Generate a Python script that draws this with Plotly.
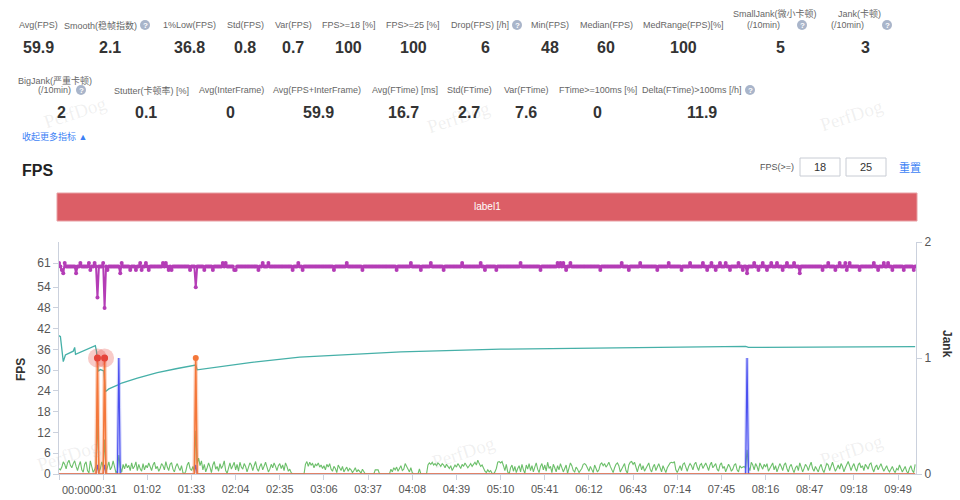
import plotly.graph_objects as go

# ---------------- data ----------------
tick_secs = [0, 31, 62, 93, 124, 155, 186, 217, 248, 279, 310, 341, 372, 403, 434, 465, 496, 527, 558, 589]
tick_labels = ["00:00", "00:31", "01:02", "01:33", "02:04", "02:35", "03:06", "03:37", "04:08", "04:39",
               "05:10", "05:41", "06:12", "06:43", "07:14", "07:45", "08:16", "08:47", "09:18", "09:49"]
fps_ticks = [0, 6, 12, 18, 24, 30, 36, 42, 48, 54, 61]
jank_ticks = [0, 1, 2]
duration_s = 602

# FPS: value 60 except at the seconds listed below
fps_typical = 60
fps_61_secs = [0, 4, 15, 21, 25, 31, 44, 57, 61, 73, 75, 115, 117, 143, 147, 168, 202, 247, 261, 283, 296,
               324, 350, 352, 354, 359, 395, 408, 428, 443, 452, 458, 464, 468, 477, 488, 494, 500, 504,
               511, 516, 540, 548, 552, 555, 572, 579, 582]
fps_59_secs = [2, 22, 34, 50, 54, 58, 63, 77, 79, 92, 102, 108, 123, 124, 140, 164, 171, 193, 213, 237,
               254, 270, 299, 307, 338, 356, 380, 400, 420, 437, 455, 461, 471, 480, 491, 497, 508, 536,
               545, 553, 562, 575, 585, 593, 600]
fps_other = {3: 58, 12: 58, 27: 51, 32: 48, 43: 58, 96: 54, 483: 58, 520: 58}

# 1%Low (teal line) key points
lowfps_secs = [0, 1, 3, 4.5, 10, 11, 11.6, 25.5, 26.3, 27.5, 29, 31.5, 32.5, 35, 41, 44, 55, 69, 83, 96, 97,
               106, 134, 169, 240, 310, 380, 450, 482, 484, 540, 601]
lowfps_vals = [40, 39.7, 32.5, 34.4, 35.5, 36.6, 34.6, 37.1, 35.5, 29.7, 30.2, 29.8, 23.8, 24.6, 25.7, 26.3,
               27.7, 29.3, 30.5, 31.5, 30.1, 30.6, 32.2, 33.8, 35.3, 36.1, 36.4, 36.6, 36.9, 36.6, 36.7, 36.8]

# green line, one value per second
green_vals = [
    1.5, 1.2, 2.0, 3.5, 2.8, 1.5, 3.2, 4.0, 2.5, 1.8, 3.0, 3.8, 2.2, 1.0, 2.5, 3.6, 1.2, 0.5, 2.8, 3.5,
    1.0, 0.3, 3.8, 2.0, 0.5, 1.2, 2.5, 0.0, 0.5, 1.5, 3.5,
    2.0, 0.0, 0.5, 2.5, 3.5, 1.2, 2.0, 3.8, 1.5, 0.3, 1.0, 0.0, 2.0, 0.5, 2.8, 1.5, 3.0, 1.8, 2.5, 1.0,
    3.2, 1.5, 2.2, 3.5, 1.0, 2.8, 1.5, 0.8, 3.0, 1.2, 2.5,
    1.8, 3.2, 2.0, 1.0, 2.6, 3.4, 1.5, 2.2, 0.8, 1.6, 3.0, 2.4, 1.2, 3.6, 2.0, 1.0, 2.8, 3.3, 1.4, 0.6,
    2.2, 3.0, 1.8, 1.0, 2.4, 0.4, 0.0, 0.8, 2.6, 3.4, 1.6,
    1.0, 2.2, 0.6, 0.0, 3.0, 4.6, 2.4, 3.8, 1.2, 2.8, 0.6, 1.8, 3.2, 2.0, 0.4, 2.6, 3.6, 1.4, 2.2, 0.8,
    3.0, 1.6, 2.4, 3.8, 1.0, 0.2, 2.0, 3.2, 1.4, 2.6, 3.4,
    1.2, 2.8, 0.8, 3.4, 2.0, 1.4, 3.0, 2.2, 0.6, 1.8, 3.2, 2.6, 1.0, 2.4, 3.6, 1.6, 0.8, 2.2, 3.0, 1.2,
    2.6, 3.4, 2.0, 0.6, 1.4, 2.8, 1.8, 3.2, 2.2, 1.0, 2.4,
    3.0, 1.6, 2.6, 1.0, 3.2, 2.2, 0.8, 1.4, 0.4, 0.0, 0.0, 0.0, 0.0, 0.0, 0.0, 0.0, 0.0, 0.0, 2.8, 3.6,
    2.2, 3.4, 2.6, 3.0, 1.8, 2.8, 2.4, 3.2, 2.0, 2.6, 1.6,
    2.4, 1.2, 2.8, 2.0, 3.0, 1.4, 0.8, 2.2, 1.6, 0.4, 2.6, 1.8, 1.0, 2.2, 0.6, 1.4, 2.0, 0.8, 1.6, 1.2,
    0.4, 1.0, 1.8, 0.6, 1.2, 0.8, 0.2, 1.4, 0.6, 0.0, 0.0,
    0.0, 0.0, 0.0, 0.0, 0.0, 1.2, 1.3, 1.2, 0.0, 0.0, 0.0, 0.0, 0.0, 0.0, 0.0, 0.0, 1.4, 0.6, 1.8, 1.2,
    2.0, 0.8, 1.6, 2.4, 1.0, 1.4, 3.0, 2.2, 1.2, 0.6, 1.8,
    0.4, 0.0, 0.0, 0.0, 0.0, 1.5, 0.0, 0.0, 0.0, 0.0, 0.0, 2.6, 3.2, 2.8, 3.4, 2.6, 3.0, 2.4, 3.2, 2.8,
    2.2, 3.0, 2.6, 1.8, 2.8, 2.2, 1.6, 2.4, 1.0, 1.8, 2.6,
    2.0, 3.0, 2.4, 1.6, 2.8, 2.2, 3.2, 2.6, 1.8, 2.4, 3.0, 2.2, 2.8, 3.4, 2.6, 4.0, 3.0, 2.2, 2.6, 1.4,
    0.8, 0.4, 1.2, 0.6, 1.0, 0.2, 0.0, 0.6, 1.6, 3.4, 3.6,
    3.2, 3.6, 2.4, 1.0, 2.8, 0.6, 0.0, 1.8, 2.6, 0.8, 2.2, 0.4, 1.6, 2.4, 0.6, 2.8, 1.2, 0.2, 2.6, 1.4,
    3.0, 1.0, 2.4, 0.6, 2.0, 3.2, 1.4, 0.4, 2.2, 3.0, 1.2,
    2.6, 0.8, 3.4, 1.6, 2.2, 0.4, 2.8, 1.8, 0.6, 2.4, 1.2, 3.0, 2.0, 0.6, 1.6, 2.6, 0.2, 1.8, 3.2, 2.4,
    1.0, 0.6, 2.0, 1.4, 0.4, 1.0, 1.6, 2.8, 3.0, 2.6, 1.4,
    0.8, 2.2, 1.0, 0.4, 2.6, 1.8, 0.6, 1.2, 2.8, 3.2, 2.4, 3.0, 2.0, 2.6, 3.4, 2.2, 1.0, 0.4, 1.8, 2.8,
    3.2, 2.4, 0.6, 1.4, 2.2, 3.0, 1.0, 0.2, 2.6, 3.4, 3.6,
    2.8, 3.4, 1.6, 0.6, 2.2, 3.0, 1.2, 2.4, 0.8, 1.6, 2.6, 3.2, 1.4, 0.6, 2.0, 2.8, 1.0, 2.2, 3.0, 1.8,
    0.6, 2.4, 1.2, 0.4, 1.8, 2.6, 3.2, 3.4, 3.2, 3.6, 1.2,
    0.4, 1.6, 2.4, 1.0, 2.8, 3.2, 1.8, 0.8, 2.2, 3.0, 2.4, 1.2, 2.8, 3.4, 2.0, 1.0, 2.6, 3.0, 1.6, 2.4,
    3.2, 2.2, 1.0, 2.6, 3.4, 1.8, 2.4, 3.0, 1.4, 0.8, 2.6,
    3.2, 1.6, 2.2, 0.6, 1.8, 2.8, 2.0, 0.8, 1.4, 2.6, 3.0, 1.2, 0.6, 2.4, 1.8, 2.0, 2.2, 1.6, 7.0, 2.0,
    1.0, 3.4, 2.6, 1.2, 3.0, 2.2, 0.8, 3.2, 2.4, 1.4, 2.8,
    2.0, 3.0, 0.8, 1.6, 2.6, 3.2, 1.2, 2.4, 0.6, 1.8, 3.0, 2.2, 1.0, 2.6, 3.2, 1.6, 0.6, 2.2, 2.8, 1.4,
    0.4, 1.8, 2.4, 1.0, 3.2, 2.0, 0.6, 1.6, 2.8, 2.2, 1.0,
    2.4, 3.4, 1.6, 0.8, 2.2, 1.4, 0.6, 2.0, 2.8, 1.2, 0.4, 1.8, 3.0, 2.6, 1.0, 2.2, 3.4, 2.0, 0.8, 1.6,
    2.6, 1.4, 3.0, 2.2, 0.6, 1.8, 2.8, 3.6, 2.4, 1.0, 2.2,
    3.0, 1.6, 0.8, 2.6, 3.2, 1.8, 2.4, 1.0, 2.8, 2.2, 1.4, 2.8, 3.2, 1.6, 0.6, 2.0, 2.6, 1.2, 2.2, 3.0,
    1.8, 0.8, 1.6, 2.4, 1.2, 0.6, 1.4, 2.2, 1.0, 0.4, 1.6,
    1.2, 2.6, 1.8, 0.6, 1.4, 2.2, 0.8, 0.2, 1.6, 2.4, 1.0, 0.4, 2.8,
]
green_peaks = {27: 16.0, 32: 10.0, 42: 5.5, 96: 12.5, 483: 7.0}

# Jank (orange), BigJank (red), SmallJank (blue) on the right axis
jank_secs = [27, 32, 96]
bigjank_secs = [27, 32]
smalljank = {27: 0.08, 32: 0.08, 42: 1.0, 96: 0.08, 483: 1.0}

# header statistics
row1_labels = ["Avg(FPS)", "Smooth(稳帧指数)", "1%Low(FPS)", "Std(FPS)", "Var(FPS)", "FPS>=18 [%]",
               "FPS>=25 [%]", "Drop(FPS) [/h]", "Min(FPS)", "Median(FPS)", "MedRange(FPS)[%]",
               "SmallJank(微小卡顿)<br>(/10min)", "Jank(卡顿)<br>(/10min)"]
row1_values = ["59.9", "2.1", "36.8", "0.8", "0.7", "100", "100", "6", "48", "60", "100", "5", "3"]
row2_labels = ["BigJank(严重卡顿)<br>(/10min)", "Stutter(卡顿率) [%]", "Avg(InterFrame)",
               "Avg(FPS+InterFrame)", "Avg(FTime) [ms]", "Std(FTime)", "Var(FTime)",
               "FTime>=100ms [%]", "Delta(FTime)>100ms [/h]"]
row2_values = ["2", "0.1", "0", "59.9", "16.7", "2.7", "7.6", "0", "11.9"]
fps_thresholds = ["18", "25"]

# ---------------- build series ----------------
secs = list(range(duration_s))
fps = [fps_typical] * duration_s
for s in fps_61_secs:
    fps[s] = 61
for s in fps_59_secs:
    fps[s] = 59
for s, v in fps_other.items():
    fps[s] = v

green = list(green_vals[:duration_s])
for s, v in green_peaks.items():
    green[s] = v

jank = [0] * duration_s
for s in jank_secs:
    jank[s] = 1
small = [0] * duration_s
for s, v in smalljank.items():
    small[s] = v

def spike_path(points):
    xs, ys = [], []
    for s, v in points:
        xs += [s - 1, s, s + 1, None]
        ys += [0, v, 0, None]
    return xs, ys

# ---------------- geometry helpers ----------------
L, R, T, Bm = 59, 44, 242, 26
W = 960 - L - R
H = 500 - T - Bm
BOT = 500 - Bm

def X(px):
    return (px - L) / W

def Y(py):
    return (BOT - py) / H

FONT = "Liberation Sans, Arial, Noto Sans CJK SC, sans-serif"
axis_c = "#cbd1dd"
PURPLE = "#b43db6"
TEAL = "#46b0a8"
GREEN = "#6cbf6a"
ORANGE = "#f4773a"
BLUE = "#4b50f0"
RED = "#e5443b"

fig = go.Figure()

fig.add_trace(go.Scatter(x=secs, y=green, mode="lines", line=dict(color=GREEN, width=1.1),
                         yaxis="y", hoverinfo="skip"))
fig.add_trace(go.Scatter(x=lowfps_secs, y=lowfps_vals, mode="lines", line=dict(color=TEAL, width=1.3),
                         yaxis="y", hoverinfo="skip"))
bx, by = spike_path([(s, v) for s, v in smalljank.items() if v >= 1])
fig.add_trace(go.Scatter(x=bx, y=by, mode="lines", line=dict(color="rgba(110,120,245,0.3)", width=3.5),
                         yaxis="y2", hoverinfo="skip"))
fig.add_trace(go.Scatter(x=secs, y=small, mode="lines", line=dict(color=BLUE, width=1.2),
                         yaxis="y2", hoverinfo="skip"))
ox, oy = spike_path([(s, 1) for s in jank_secs])
fig.add_trace(go.Scatter(x=ox, y=oy, mode="lines", line=dict(color="rgba(244,119,58,0.3)", width=4),
                         yaxis="y2", hoverinfo="skip"))
fig.add_trace(go.Scatter(x=secs, y=jank, mode="lines", line=dict(color=ORANGE, width=1.5),
                         yaxis="y2", hoverinfo="skip"))
fig.add_trace(go.Scatter(x=jank_secs, y=[1] * len(jank_secs), mode="markers",
                         marker=dict(color=ORANGE, size=6), yaxis="y2", hoverinfo="skip", cliponaxis=False))
fig.add_trace(go.Scatter(x=bigjank_secs, y=[1] * len(bigjank_secs), mode="markers",
                         marker=dict(color="rgba(229,68,59,0.28)", size=19), yaxis="y2", hoverinfo="skip",
                         cliponaxis=False))
fig.add_trace(go.Scatter(x=bigjank_secs, y=[1] * len(bigjank_secs), mode="markers",
                         marker=dict(color=RED, size=7), yaxis="y2", hoverinfo="skip", cliponaxis=False))
fig.add_trace(go.Scatter(x=secs, y=fps, mode="lines+markers", line=dict(color=PURPLE, width=2),
                         marker=dict(color=PURPLE, size=4), yaxis="y", hoverinfo="skip"))

annotations = []
shapes = []

def ann(px, py, text, size=9, color="#666", xanchor="center", angle=0, family=FONT, yanchor="middle"):
    annotations.append(dict(x=X(px), y=Y(py), xref="paper", yref="paper", text=text, showarrow=False,
                            xanchor=xanchor, yanchor=yanchor, textangle=angle,
                            font=dict(size=size, color=color, family=family)))

def help_icon(cx, cy):
    r = 5
    shapes.append(dict(type="circle", xref="paper", yref="paper", x0=X(cx - r), x1=X(cx + r),
                       y0=Y(cy + r), y1=Y(cy - r), fillcolor="#a9b5ca", line=dict(width=0)))
    ann(cx, cy, "<b>?</b>", size=8, color="white")

# watermarks
for (wx, wy) in [(75, 113), (458, 117), (851, 115), (68, 455), (463, 452), (851, 450)]:
    ann(wx, wy, "PerfDog", size=19, color="rgba(160,160,160,0.16)", angle=-18,
        family="Liberation Serif, DejaVu Serif, serif")

# header row 1
r1_label_pos = [(38, 25, "center"), (139, 25, "right"), (189, 25, "center"), (245, 25, "center"),
                (293, 25, "center"), (349, 25, "center"), (413, 25, "center"), (511, 25, "right"),
                (550, 25, "center"), (606, 25, "center"), (683, 25, "center"), (775, 19, "center"),
                (859, 19, "center")]
r1_value_x = [38, 110, 189, 245, 293, 348, 413, 485, 550, 606, 683, 780, 865]
for lab, (px, py, anc), vx, val in zip(row1_labels, r1_label_pos, r1_value_x, row1_values):
    if "<br>" in lab:
        top, bottom = lab.split("<br>")
        ann(px, 14, top)
        ann(px + 7, 25, bottom, xanchor="right")
    else:
        ann(px, py, lab, xanchor=anc)
    ann(vx, 47, "<b>%s</b>" % val, size=16, color="#333")
for cx in [145, 517, 802, 887]:
    help_icon(cx, 25)

# header row 2
r2_label_x = [55, 151, 231, 317, 405, 469, 526, 598, 743]
r2_value_x = [61, 146, 230, 318, 403, 469, 526, 597, 702]
for i, (lab, px, vx, val) in enumerate(zip(row2_labels, r2_label_x, r2_value_x, row2_values)):
    if "<br>" in lab:
        top, bottom = lab.split("<br>")
        ann(px, 80, top)
        ann(73, 90, bottom, xanchor="right")
    elif i == len(row2_labels) - 1:
        ann(px, 90, lab, xanchor="right")
    else:
        ann(px, 90, lab)
    ann(vx, 113, "<b>%s</b>" % val, size=16, color="#333")
for cx in [81, 750]:
    help_icon(cx, 90)

ann(20, 137, "收起更多指标 ▲", size=9, color="#3d7ff5", xanchor="left")

# FPS section header and controls
ann(20, 170, "<b>FPS</b>", size=16, color="#222", xanchor="left")
ann(777, 167, "FPS(>=)", size=9, color="#555")
for (x0, x1), val in zip([(800, 840), (846, 886)], fps_thresholds):
    shapes.append(dict(type="rect", xref="paper", yref="paper", x0=X(x0), x1=X(x1), y0=Y(176), y1=Y(158),
                       fillcolor="white", line=dict(color="#c8ccd4", width=1)))
    ann((x0 + x1) / 2, 167, val, size=11, color="#333")
ann(910, 167, "重置", size=11, color="#3d7ff5")

# label1 bar
shapes.append(dict(type="rect", xref="paper", yref="paper", x0=X(57), x1=X(917), y0=Y(221), y1=Y(193),
                   fillcolor="#dc5e66", line=dict(color="#e8a0a4", width=1)))
ann(487, 207, "label1", size=10, color="white")

# axis titles and first x tick label
ann(21, 370, "<b>FPS</b>", size=12, color="#333", angle=-90)
ann(947, 344, "<b>Jank</b>", size=12, color="#333", angle=90)
ann(60, 490, tick_labels[0], size=11, color="#555", xanchor="left")

fig.update_layout(
    width=960, height=500,
    margin=dict(l=L, r=R, t=T, b=Bm, pad=0),
    showlegend=False,
    plot_bgcolor="white", paper_bgcolor="white",
    font=dict(family=FONT, size=12, color="#555"),
    xaxis=dict(range=[0, 601.6], tickmode="array", tickvals=tick_secs, ticktext=[""] + tick_labels[1:],
               ticks="outside", ticklen=5, tickcolor=axis_c, showline=True, linecolor=axis_c,
               showgrid=False, zeroline=False, tickfont=dict(size=11, color="#555"), automargin=False),
    yaxis=dict(range=[0, 67.07], tickmode="array", tickvals=fps_ticks, ticks="outside", ticklen=5,
               tickcolor=axis_c, showline=True, linecolor=axis_c, showgrid=False, zeroline=False,
               tickfont=dict(size=12, color="#555"), automargin=False),
    yaxis2=dict(range=[0, 2], overlaying="y", side="right", tickmode="array", tickvals=jank_ticks,
                ticks="outside", ticklen=5, tickcolor=axis_c, showline=True, linecolor=axis_c,
                showgrid=False, zeroline=False, tickfont=dict(size=12, color="#555"), automargin=False),
    annotations=annotations,
    shapes=shapes,
)

fig.write_html("out.html", config={"displayModeBar": False, "staticPlot": True},
               post_script="document.body.style.margin='0';document.body.style.padding='0';")
